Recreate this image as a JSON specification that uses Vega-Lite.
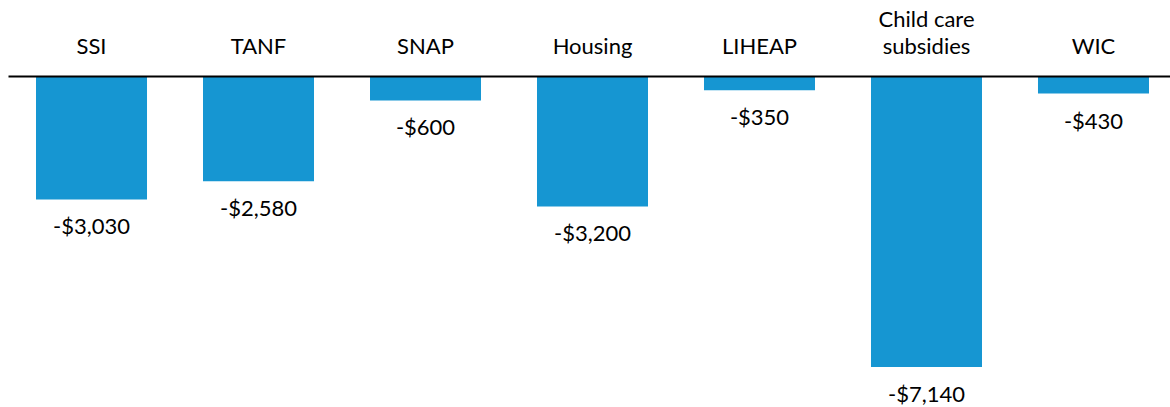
{
  "$schema": "https://vega.github.io/schema/vega-lite/v6.json",
  "width": 1169,
  "height": 331,
  "autosize": {"type": "none"},
  "padding": {"left": 8, "top": 76, "right": 0, "bottom": 0},
  "background": "white",
  "config": {"view": {"stroke": null}, "font": "Lato"},
  "data": {
    "values": [
      {"program": "SSI", "line1": "", "line2": "SSI", "value": -3030, "label": "-$3,030"},
      {"program": "TANF", "line1": "", "line2": "TANF", "value": -2580, "label": "-$2,580"},
      {"program": "SNAP", "line1": "", "line2": "SNAP", "value": -600, "label": "-$600"},
      {"program": "Housing", "line1": "", "line2": "Housing", "value": -3200, "label": "-$3,200"},
      {"program": "LIHEAP", "line1": "", "line2": "LIHEAP", "value": -350, "label": "-$350"},
      {"program": "Child care subsidies", "line1": "Child care", "line2": "subsidies", "value": -7140, "label": "-$7,140"},
      {"program": "WIC", "line1": "", "line2": "WIC", "value": -430, "label": "-$430"}
    ]
  },
  "encoding": {
    "x": {
      "field": "program",
      "type": "nominal",
      "sort": null,
      "scale": {"paddingInner": 0.3353, "paddingOuter": 0.1677},
      "axis": {
        "orient": "top",
        "title": null,
        "ticks": false,
        "labels": false,
        "domainColor": "#000000",
        "domainWidth": 2,
        "zindex": 1
      }
    },
    "y": {
      "field": "value",
      "type": "quantitative",
      "scale": {"domain": [-8121, 0], "nice": false, "zero": true},
      "axis": null
    }
  },
  "layer": [
    {"mark": {"type": "bar", "color": "#1696d2"}},
    {
      "mark": {"type": "text", "font": "Lato", "fontSize": 22, "color": "#000000", "align": "center", "baseline": "alphabetic", "dy": 35},
      "encoding": {"text": {"field": "label"}}
    },
    {
      "mark": {"type": "text", "font": "Lato", "fontSize": 22, "color": "#000000", "align": "center", "baseline": "alphabetic", "dy": -22, "clip": false},
      "encoding": {"y": {"datum": 0}, "text": {"field": "line2"}}
    },
    {
      "mark": {"type": "text", "font": "Lato", "fontSize": 22, "color": "#000000", "align": "center", "baseline": "alphabetic", "dy": -49, "clip": false},
      "encoding": {"y": {"datum": 0}, "text": {"field": "line1"}}
    }
  ]
}
